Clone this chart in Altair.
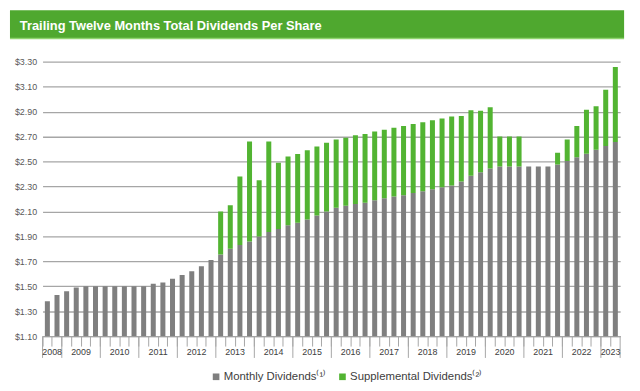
import altair as alt
import pandas as pd

# ---- data ----
years = [2008] * 2 + [y for y in range(2009, 2023) for _ in range(4)] + [2023] * 2
quarters = [3, 4] + [1, 2, 3, 4] * 14 + [1, 2]

monthly = [
    1.38, 1.43,
    1.46, 1.49, 1.50, 1.50,
    1.50, 1.50, 1.50, 1.50,
    1.50, 1.52, 1.53, 1.56,
    1.59, 1.62, 1.66, 1.71,
    1.755, 1.80, 1.83, 1.86,
    1.90, 1.935, 1.96, 1.99,
    2.01, 2.035, 2.067, 2.10,
    2.13, 2.146, 2.16, 2.17,
    2.19, 2.205, 2.22, 2.23,
    2.247, 2.262, 2.278, 2.294,
    2.307, 2.34, 2.385, 2.415,
    2.445, 2.46, 2.46, 2.46,
    2.46, 2.46, 2.46, 2.476,
    2.505, 2.534, 2.563, 2.595,
    2.624, 2.656,
]
total = [
    1.38, 1.43,
    1.46, 1.49, 1.50, 1.50,
    1.50, 1.50, 1.50, 1.50,
    1.50, 1.52, 1.53, 1.56,
    1.59, 1.62, 1.66, 1.71,
    2.10, 2.15, 2.38, 2.66,
    2.35, 2.66, 2.49, 2.54,
    2.56, 2.59, 2.62, 2.65,
    2.677, 2.69, 2.71, 2.72,
    2.74, 2.755, 2.77, 2.785,
    2.80, 2.815, 2.83, 2.845,
    2.86, 2.865, 2.91, 2.907,
    2.936, 2.70, 2.70, 2.70,
    2.46, 2.46, 2.46, 2.57,
    2.677, 2.785, 2.915, 2.944,
    3.076, 3.258,
]
y_ticks = [1.10, 1.30, 1.50, 1.70, 1.90, 2.10, 2.30, 2.50, 2.70, 2.90, 3.10, 3.30]
series_names = ["Monthly Dividends\u207d\u00b9\u207e", "Supplemental Dividends\u207d\u00b2\u207e"]
title_text = "Trailing Twelve Months Total Dividends Per Share"

# ---- tables ----
periods = [f"{y}Q{q}" for y, q in zip(years, quarters)]
rows = []
for p, m, t in zip(periods, monthly, total):
    rows.append({"period": p, "series": series_names[0], "value": m, "ord": 0})
    rows.append({"period": p, "series": series_names[1], "value": round(t - m, 4), "ord": 1})
df = pd.DataFrame(rows)

year_list = sorted(set(years))
first_period = []
mid_period = []
for yr in year_list:
    ps = [p for p, y in zip(periods, years) if y == yr]
    first_period.append(ps[0])
    mid_period.append(ps[len(ps) // 2])
bounds = pd.DataFrame({"period": first_period})
end_bound = pd.DataFrame({"period": [periods[-1]]})
labels_df = pd.DataFrame({"period": mid_period, "year": [str(y) for y in year_list]})

W, H = 585, 278
GREY = "#7f7f7f"
GREEN = "#52b432"
LINE = "#a6a6a6"

xscale = alt.Scale(domain=periods, paddingInner=0, paddingOuter=0)

bars = alt.Chart(df).mark_bar(clip=True, width=alt.RelativeBandSize(0.52)).encode(
    x=alt.X("period:N", scale=xscale,
            axis=alt.Axis(labels=False, title=None, ticks=True, tickSize=10, bandPosition=0,
                          domainColor=LINE, tickColor=LINE, grid=False, domainWidth=1)),
    y=alt.Y("value:Q", stack=True,
            scale=alt.Scale(domain=[1.10, 3.30], nice=False, zero=False),
            axis=alt.Axis(values=y_ticks, format="$.2f", title=None, domain=False, ticks=False,
                          labelPadding=6, labelFont="Liberation Sans", labelFontSize=9,
                          labelColor="#595959", gridColor=LINE, gridWidth=1.3)),
    color=alt.Color("series:N",
                    scale=alt.Scale(domain=series_names, range=[GREY, GREEN]),
                    legend=alt.Legend(orient="none", legendX=170, legendY=313, direction="horizontal",
                                      title=None, symbolType="square", symbolSize=45,
                                      symbolStrokeWidth=0, labelFont="Liberation Sans",
                                      labelFontSize=11.5, labelColor="#404040",
                                      columnPadding=10, labelOffset=2)),
    order=alt.Order("ord:Q"),
)

seps = alt.Chart(bounds).mark_rule(color=LINE, strokeWidth=1).encode(
    x=alt.X("period:N", scale=xscale, bandPosition=0),
    y=alt.value(H), y2=alt.value(H + 22),
)
end_sep = alt.Chart(end_bound).mark_rule(color=LINE, strokeWidth=1).encode(
    x=alt.X("period:N", scale=xscale, bandPosition=1),
    y=alt.value(H), y2=alt.value(H + 22),
)
year_text = alt.Chart(labels_df).mark_text(
    font="Liberation Sans", fontSize=9, color="#404040", baseline="alphabetic", align="center"
).encode(
    x=alt.X("period:N", scale=xscale, bandPosition=0),
    y=alt.value(H + 19),
    text="year:N",
)

one = pd.DataFrame({"t": [title_text]})
title_bg = alt.Chart(one).mark_rect(color="#4fa82f").encode(
    x=alt.value(-33), x2=alt.value(589), y=alt.value(-52), y2=alt.value(-24)
)
title_line = alt.Chart(one).mark_rule(color="#8fd46f", strokeWidth=1.5).encode(
    x=alt.value(-33), x2=alt.value(589), y=alt.value(-23.5)
)
title_txt = alt.Chart(one).mark_text(
    font="Liberation Sans", fontSize=13, fontWeight="bold", color="white",
    align="left", baseline="alphabetic"
).encode(x=alt.value(-23), y=alt.value(-32.5), text="t:N")

chart = alt.layer(title_bg, title_line, title_txt, bars, seps, end_sep, year_text).properties(
    width=W, height=H, autosize="none",
    padding={"left": 35, "top": 52, "right": 12, "bottom": 45},
).configure_view(stroke=None)

chart.save("out.html", embed_options={"renderer": "svg", "actions": False})
